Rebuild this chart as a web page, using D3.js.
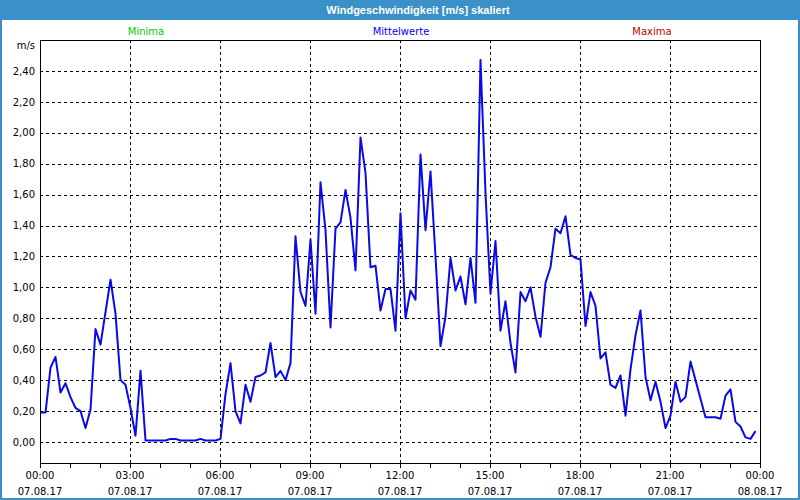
<!DOCTYPE html>
<html lang="de">
<head>
    <meta charset="utf-8">
    <title>Windgeschwindigkeit</title>
    <script src="https://d3js.org/d3.v7.min.js"></script>
    <style>
      body { margin: 0; background: #fff; }
      text { font-family: "DejaVu Sans", sans-serif; font-size: 10px; }
    </style>
</head>

<body>
  <div id="dataviz"></div>

<script>

// 10-Minuten-Mittelwerte, 07.08.17 00:00 bis 23:50
var values = [
  0.19, 0.19, 0.48, 0.55, 0.32, 0.38, 0.29, 0.22, 0.20, 0.09, 0.21, 0.73,
  0.63, 0.84, 1.05, 0.83, 0.40, 0.37, 0.22, 0.04, 0.46, 0.01, 0.01, 0.01,
  0.01, 0.01, 0.02, 0.02, 0.01, 0.01, 0.01, 0.01, 0.02, 0.01, 0.01, 0.01,
  0.02, 0.31, 0.51, 0.20, 0.12, 0.37, 0.26, 0.42, 0.43, 0.45, 0.64, 0.42,
  0.46, 0.40, 0.51, 1.33, 0.97, 0.88, 1.31, 0.83, 1.68, 1.37, 0.74, 1.38,
  1.42, 1.63, 1.45, 1.11, 1.97, 1.74, 1.13, 1.14, 0.85, 0.99, 0.99, 0.72,
  1.48, 0.80, 0.98, 0.92, 1.86, 1.37, 1.75, 1.20, 0.62, 0.81, 1.19, 0.98,
  1.07, 0.89, 1.19, 0.90, 2.47, 1.61, 0.96, 1.30, 0.72, 0.91, 0.64, 0.45,
  0.97, 0.91, 1.00, 0.81, 0.68, 1.03, 1.13, 1.38, 1.35, 1.46, 1.21, 1.19,
  1.18, 0.75, 0.97, 0.88, 0.54, 0.58, 0.37, 0.35, 0.43, 0.17, 0.47, 0.69,
  0.85, 0.42, 0.27, 0.39, 0.26, 0.09, 0.17, 0.39, 0.26, 0.29, 0.52, 0.40,
  0.28, 0.16, 0.16, 0.16, 0.15, 0.30, 0.34, 0.13, 0.10, 0.03, 0.02, 0.07
];
var stepMinutes = 10;
var timeLabels = ["00:00", "03:00", "06:00", "09:00", "12:00", "15:00", "18:00", "21:00", "00:00"];
var dateLabels = ["07.08.17", "07.08.17", "07.08.17", "07.08.17", "07.08.17", "07.08.17", "07.08.17", "07.08.17", "08.08.17"];
var yTicks = [0, 0.2, 0.4, 0.6, 0.8, 1.0, 1.2, 1.4, 1.6, 1.8, 2.0, 2.2, 2.4];
var legendNames = ["Minima", "Mittelwerte", "Maxima"];
var legendColors = ["#00c800", "#0000ff", "#c00000"];

var W = 800, H = 500;
var margin = {top: 40, right: 40, bottom: 37, left: 40};
var width = W - margin.left - margin.right,
    height = H - margin.top - margin.bottom;

var svg = d3.select("#dataviz")
    .append("svg")
    .attr("width", W)
    .attr("height", H);

// Rahmen und Titelleiste
svg.append("rect")
    .attr("x", 1).attr("y", 0)
    .attr("width", W - 2).attr("height", H - 1)
    .attr("fill", "#fff")
    .attr("stroke", "#3b91c7")
    .attr("stroke-width", 2);
svg.append("rect")
    .attr("x", 0).attr("y", 0)
    .attr("width", W).attr("height", 20)
    .attr("fill", "#3b91c7");
svg.append("text")
    .attr("x", 418).attr("y", 14)
    .attr("text-anchor", "middle")
    .attr("fill", "#fff")
    .style("font-family", "'Liberation Sans', Arial, sans-serif")
    .style("font-size", "11px")
    .style("font-weight", "bold")
    .text("Windgeschwindigkeit [m/s] skaliert");

// Legende
var legendX = [146, 401, 652];
svg.selectAll(".legend")
    .data(legendNames)
    .enter().append("text")
      .attr("class", "legend")
      .attr("x", function(d, i) { return legendX[i]; })
      .attr("y", 35)
      .attr("text-anchor", "middle")
      .attr("fill", function(d, i) { return legendColors[i]; })
      .text(function(d) { return d; });

var g = svg.append("g")
    .attr("transform", "translate(" + margin.left + "," + margin.top + ")");

var start = new Date(2017, 7, 7, 0, 0);
var end = new Date(2017, 7, 8, 0, 0);
var data = values.map(function(v, i) {
  return {t: d3.timeMinute.offset(start, i * stepMinutes), v: v};
});

var x = d3.scaleTime()
    .domain([start, end])
    .range([0, width]);

var y = d3.scaleLinear()
    .domain([-0.136, 2.6])
    .range([height, 0]);

var majorTicks = d3.timeHour.every(3).range(start, d3.timeMinute.offset(end, 1));
var minorTicks = d3.timeHour.every(1).range(start, d3.timeMinute.offset(end, 1));

// Gitterlinien
g.selectAll(".hgrid")
    .data(yTicks)
    .enter().append("line")
      .attr("class", "hgrid")
      .attr("x1", 0).attr("x2", width)
      .attr("y1", function(d) { return Math.round(y(d)) + 0.5; })
      .attr("y2", function(d) { return Math.round(y(d)) + 0.5; })
      .attr("stroke", "#000")
      .attr("stroke-dasharray", "3,3");

g.selectAll(".vgrid")
    .data(majorTicks.slice(1, -1))
    .enter().append("line")
      .attr("class", "vgrid")
      .attr("x1", function(d) { return Math.round(x(d)) + 0.5; })
      .attr("x2", function(d) { return Math.round(x(d)) + 0.5; })
      .attr("y1", 0).attr("y2", height)
      .attr("stroke", "#000")
      .attr("stroke-dasharray", "3,3");

// Messkurve
var line = d3.line()
    .x(function(d) { return x(d.t) + 0.5; })
    .y(function(d) { return y(d.v); });

g.append("path")
    .datum(data)
    .attr("fill", "none")
    .attr("stroke", "#0a0ae8")
    .attr("stroke-width", 2)
    .attr("stroke-linejoin", "round")
    .attr("d", line);

// Achsen
var xAxis = g.append("g")
    .attr("transform", "translate(0," + height + ")")
    .call(d3.axisBottom(x).tickValues(minorTicks).tickSize(5).tickFormat(""));
xAxis.select(".domain").attr("stroke", "#000");

var xLabels = g.append("g")
    .attr("transform", "translate(0," + height + ")");
xLabels.selectAll(".tl")
    .data(majorTicks)
    .enter().append("text")
      .attr("class", "tl")
      .attr("x", function(d) { return x(d); })
      .attr("y", 16)
      .attr("text-anchor", "middle")
      .attr("fill", "#000")
      .text(function(d, i) { return timeLabels[i]; });
xLabels.selectAll(".dl")
    .data(majorTicks)
    .enter().append("text")
      .attr("class", "dl")
      .attr("x", function(d) { return x(d); })
      .attr("y", 32)
      .attr("text-anchor", "middle")
      .attr("fill", "#000")
      .text(function(d, i) { return dateLabels[i]; });

var yAxis = g.append("g")
    .call(d3.axisLeft(y).tickValues(yTicks).tickSize(0).tickPadding(5)
      .tickFormat(function(d) { return d3.format(".2f")(d).replace(".", ","); }));
yAxis.select(".domain").remove();
yAxis.selectAll("text").style("font-size", "10px").style("font-family", "'DejaVu Sans', sans-serif");

g.append("text")
    .attr("x", -5).attr("y", 9)
    .attr("text-anchor", "end")
    .text("m/s");

// Plotrahmen
g.append("rect")
    .attr("x", 0.5).attr("y", 0.5)
    .attr("width", width).attr("height", height)
    .attr("fill", "none")
    .attr("stroke", "#000");

</script>
</body>
</html>
